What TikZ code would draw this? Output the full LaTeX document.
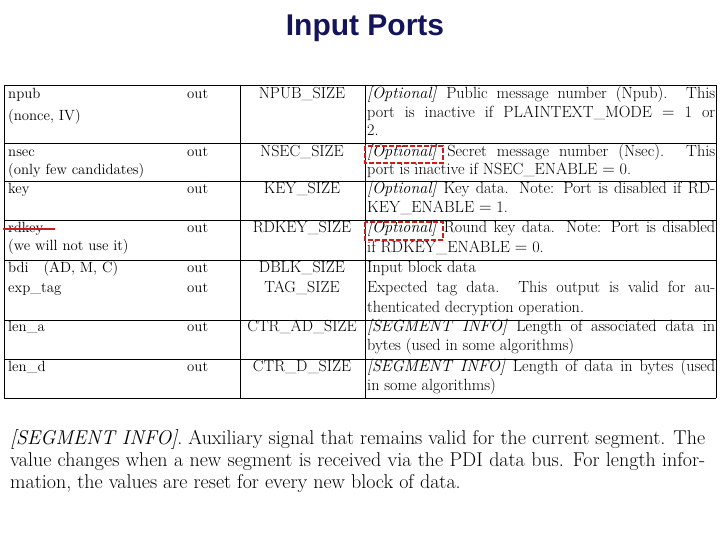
\documentclass[tikz,border=0pt]{standalone}
\usepackage{fontspec}
\newfontfamily\titlefont{Liberation Sans}
\definecolor{navy}{RGB}{20,20,90}
\definecolor{rd}{RGB}{200,30,30}
\begin{document}
\begin{tikzpicture}[x=1pt,y=-1pt,
  cell/.style={anchor=base west,inner sep=0pt,font=\fontsize{14.8}{17}\selectfont},
  desc/.style={anchor=base west,inner sep=0pt,font=\fontsize{16.2}{18}\selectfont},
  mid/.style={anchor=base,inner sep=0pt,font=\fontsize{16}{18}\selectfont},
  grid/.style={line width=0.8pt},
  optbox/.style={draw=rd,dash pattern=on 5pt off 2pt,line width=2.2pt}]
\useasboundingbox (0,0) rectangle (720,540);
\node[font=\titlefont\bfseries\fontsize{30}{34}\selectfont,text=navy] (title) at (365,28) {Input Ports};
% grid
\foreach \y in {85,143,181,220,260,320,359,398} \draw[grid] (4,\y) -- (716,\y);
\foreach \x in {4,240,365,716} \draw[grid] (\x,85) -- (\x,398);
\newcommand{\J}[1]{\makebox[348pt][s]{#1}}
% row 1
\node[cell] (a1) at (8,99) {npub};
\node[cell] (a1b) at (8,121) {(nonce, IV)};
\node[cell] (b1) at (187,99) {out};
\node[mid] (c1) at (302,99) {NPUB\_SIZE};
\node[desc] (d1) at (367,99) {\J{\textit{[Optional]} Public message number (Npub). This}};
\node[desc] (d1b) at (367,118) {\J{port is inactive if PLAINTEXT\_MODE $=$ 1 or}};
\node[desc] (d1c) at (367,136) {2.};
% row 2
\node[cell] (a2) at (8,157) {nsec};
\node[cell] (a2b) at (8,175) {(only few candidates)};
\node[cell] (b2) at (187,157) {out};
\node[mid] (c2) at (302,157) {NSEC\_SIZE};
\node[desc] (d2) at (367,157) {\J{\textit{[Optional]} Secret message number (Nsec). This}};
\node[desc] (d2b) at (367,175) {port is inactive if NSEC\_ENABLE $=$ 0.};
% row 3
\node[cell] (a3) at (8,194) {key};
\node[cell] (b3) at (187,194) {out};
\node[mid] (c3) at (302,194) {KEY\_SIZE};
\node[desc] (d3) at (367,194) {\J{\textit{[Optional]} Key data. Note: Port is disabled if RD-}};
\node[desc] (d3b) at (367,213) {KEY\_ENABLE $=$ 1.};
% row 4
\node[cell] (a4) at (8,233) {rdkey};
\node[cell] (a4b) at (8,251) {(we will not use it)};
\node[cell] (b4) at (187,233) {out};
\node[mid] (c4) at (302,233) {RDKEY\_SIZE};
\node[desc] (d4) at (367,233) {\J{\textit{[Optional]} Round key data. Note: Port is disabled}};
\node[desc] (d4b) at (367,252) {if RDKEY\_ENABLE $=$ 0.};
% row 5
\node[cell] (a5) at (8,272) {bdi\quad (AD, M, C)};
\node[cell] (a5b) at (8,292) {exp\_tag};
\node[cell] (b5) at (187,272) {out};
\node[cell] (b5b) at (187,292) {out};
\node[mid] (c5) at (302,272) {DBLK\_SIZE};
\node[mid] (c5b) at (302,292) {TAG\_SIZE};
\node[desc] (d5) at (367,272) {Input block data};
\node[desc] (d5b) at (367,292) {\J{Expected tag data. This output is valid for au-}};
\node[desc] (d5c) at (367,312) {thenticated decryption operation.};
% row 6
\node[cell] (a6) at (8,331) {len\_a};
\node[cell] (b6) at (187,331) {out};
\node[mid] (c6) at (302,331) {CTR\_AD\_SIZE};
\node[desc] (d6) at (367,331) {\J{\textit{[SEGMENT INFO]} Length of associated data in}};
\node[desc] (d6b) at (367,350) {bytes (used in some algorithms)};
% row 7
\node[cell] (a7) at (8,371) {len\_d};
\node[cell] (b7) at (187,371) {out};
\node[mid] (c7) at (302,371) {CTR\_D\_SIZE};
\node[desc] (d7) at (367,371) {\J{\textit{[SEGMENT INFO]} Length of data in bytes (used}};
\node[desc] (d7b) at (367,390) {in some algorithms)};
% red marks
\draw[optbox] (365,146) rectangle (443,163);
\draw[optbox] (365,222) rectangle (443,240);
\draw[rd,line width=2pt] (3,229) -- (55,229);
% footnote
\node[anchor=base west,inner sep=0pt,font=\fontsize{20}{24}\selectfont] (f1) at (10,444) {\makebox[695pt][s]{\textit{[SEGMENT INFO]}. Auxiliary signal that remains valid for the current segment. The}};
\node[anchor=base west,inner sep=0pt,font=\fontsize{20}{24}\selectfont] (f2) at (10,466) {\makebox[695pt][s]{value changes when a new segment is received via the PDI data bus. For length infor-}};
\node[anchor=base west,inner sep=0pt,font=\fontsize{20}{24}\selectfont] (f3) at (10,488) {mation, the values are reset for every new block of data.};
\end{tikzpicture}
\end{document}
